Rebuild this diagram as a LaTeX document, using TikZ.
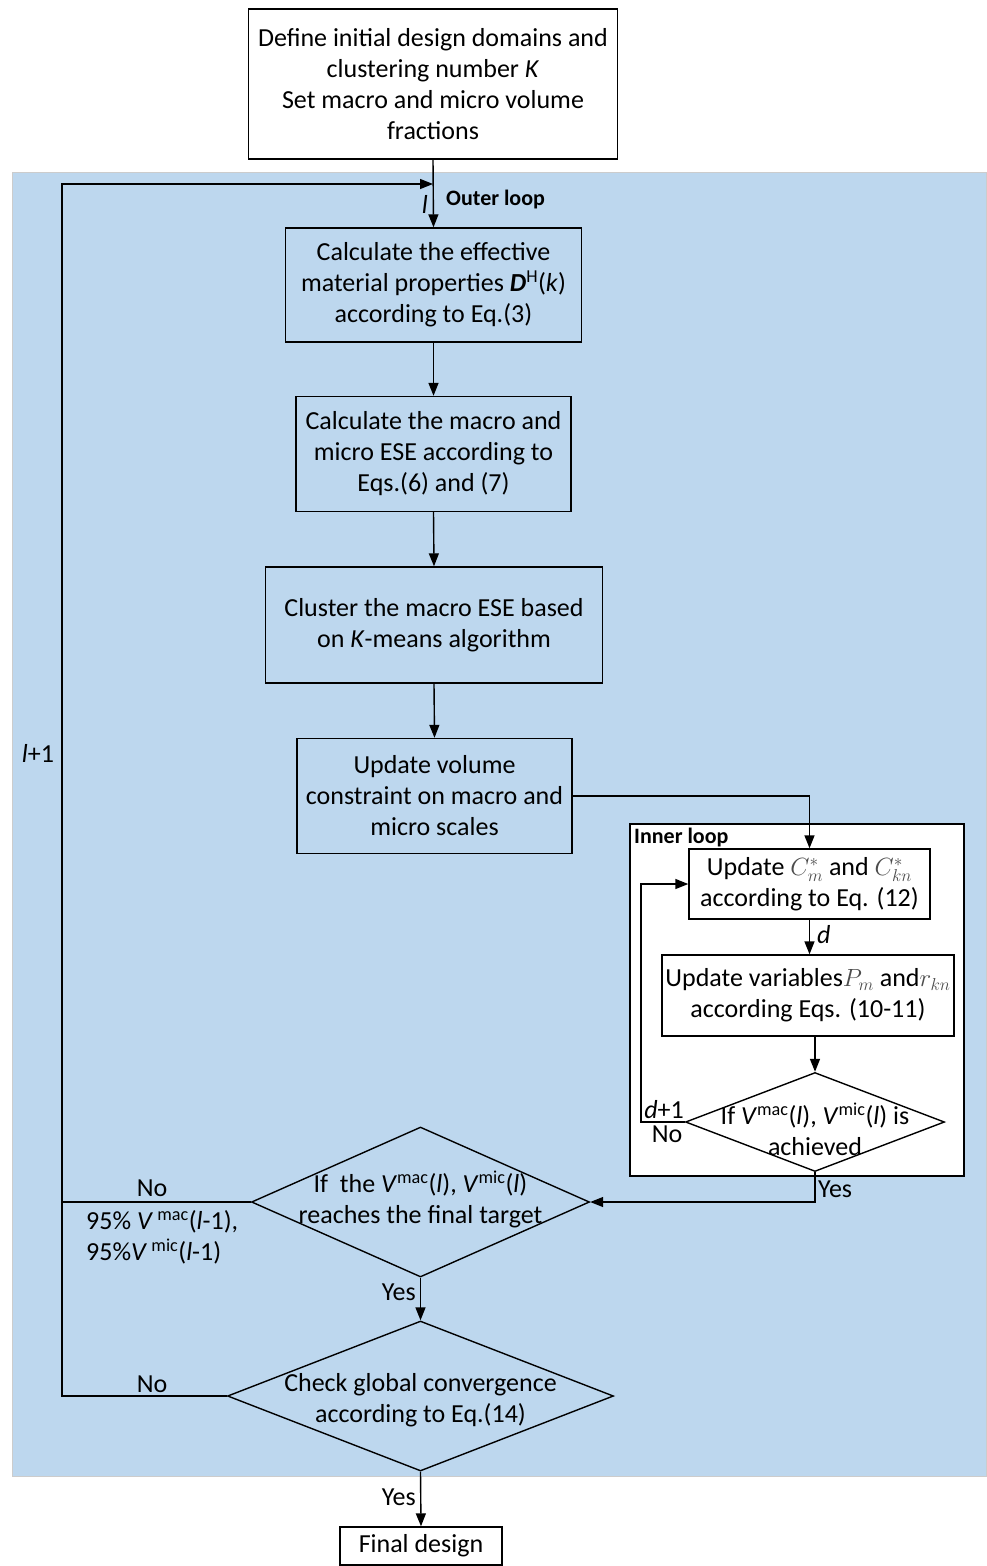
\documentclass[tikz,border=0pt]{standalone}
\usepackage{fontspec}
\setmainfont{Carlito}
\usepackage{tikz}
\usetikzlibrary{shapes.geometric}
\usetikzlibrary{arrows.meta}

\definecolor{loopblue}{RGB}{189,215,238}

\tikzset{
	box/.style={draw, line width=1.4pt, align=center, inner sep=0pt},
	decision/.style={draw, diamond, line width=1.4pt, inner sep=0pt},
	arr/.style={line width=1.4pt, -{Triangle[length=13pt,width=10pt]}},
	lnk/.style={line width=1.4pt},
	txt/.style={inner sep=0pt},
	looplbl/.style={inner sep=0pt, anchor=west, font=\bfseries\fontsize{22}{26}\selectfont}
}

\begin{document}
\begin{tikzpicture}[x=1pt,y=1pt,yscale=-1,xscale=1,font=\fontsize{26}{31}\selectfont]
	\useasboundingbox (0,0) rectangle (986,1566);

	%Shape: Rectangle [outer loop region]
	\fill [loopblue, draw=black!20] (12,172) rectangle (986,1476);
	%Shape: Rectangle [inner loop region]
	\draw [fill=white, line width=1.4pt] (630,824) rectangle (964,1176);

	%Shape: Rectangle
	\node [box, minimum width=369pt, minimum height=150pt] (init) at (433,84) {Define initial design domains and\\clustering number \textit{K}\\Set macro and micro volume\\fractions};
	%Shape: Rectangle
	\node [box, minimum width=296pt, minimum height=114pt] (effprop) at (433.5,285) {Calculate the effective\\material properties \textbf{\textit{D}}\textsuperscript{H}(\textit{k})\\according to Eq.(3)};
	%Shape: Rectangle
	\node [box, minimum width=275pt, minimum height=115pt] (ese) at (433.5,454) {Calculate the macro and\\micro ESE according to\\Eqs.(6) and (7)};
	%Shape: Rectangle
	\node [box, minimum width=337pt, minimum height=116pt] (cluster) at (434,625) {Cluster the macro ESE based\\on \textit{K}-means algorithm};
	%Shape: Rectangle
	\node [box, minimum width=275pt, minimum height=115pt] (volume) at (434.5,796) {Update volume\\constraint on macro and\\micro scales};
	%Shape: Rectangle
	\node [box, minimum width=241pt, minimum height=70pt] (updC) at (809.5,884) {Update {\color{black!70}$C_m^*$} and {\color{black!70}$C_{kn}^*$}\\according to Eq. (12)};
	%Shape: Rectangle
	\node [box, minimum width=292pt, minimum height=81pt] (updP) at (808,995.5) {Update variables{\color{black!70}$P_m$} and{\color{black!70}$r_{kn}$}\\according Eqs. (10-11)};
	%Shape: Diamond
	\node [decision, minimum width=259pt, minimum height=99pt] (innerdec) at (815,1122) {};
	%Shape: Diamond
	\node [decision, minimum width=338pt, minimum height=150pt] (target) at (420.5,1202) {};
	%Shape: Diamond
	\node [decision, minimum width=386pt, minimum height=150pt] (conv) at (420.5,1396) {};
	%Shape: Rectangle
	\node [box, minimum width=162pt, minimum height=38pt] (final) at (421,1546) {Final design};

	\coordinate (lentry) at (433,184);
	\coordinate (lcorner) at (62,1396);
	\coordinate (dback) at (641,1122);

	%Straight Lines
	\draw [arr] (init.south) -- (effprop.north);
	\draw [arr] (effprop.south) -- (ese.north);
	\draw [arr] (ese.south) -- (cluster.north);
	\draw [arr] (cluster.south) -- (volume.north);
	\draw [arr] (volume.east) -| (updC.north);
	\draw [arr] (updC.south) -- (updC.south |- updP.north);
	\draw [arr] (innerdec.north |- updP.south) -- (innerdec.north);
	\draw [arr] (innerdec.west) -- (dback) |- (updC.west);
	\draw [arr] (innerdec.south) |- (target.east);
	\draw [arr] (target.south) -- (conv.north);
	\draw [arr] (conv.south) -- (final.north);
	\draw [arr] (conv.west) -- (lcorner) |- (lentry);
	\draw [lnk] (target.west) -- (target.west -| lcorner);

	% Text Node
	\node [txt, align=center] (targettxt) at (420.5,1199) {If\ \ the \textit{V}\textsuperscript{mac}(\textit{l}), \textit{V}\textsuperscript{mic}(\textit{l})\\reaches the final target};
	% Text Node
	\node [txt, align=center] (convtxt) at (420.5,1400) {Check global convergence\\according to Eq.(14)};
	% Text Node
	\node [txt, align=center] (innerdectxt) at (815,1129) {If \textit{V}\textsuperscript{mac}(\textit{l}), \textit{V}\textsuperscript{mic}(\textit{l}) is\\achieved};
	% Text Node
	\node [txt, anchor=east] (lvar) at (428,204) {\textit{l}};
	% Text Node
	\node [looplbl] (outerlbl) at (446,200) {Outer loop};
	% Text Node
	\node [looplbl] (innerlbl) at (634,838) {Inner loop};
	% Text Node
	\node [txt] (lnext) at (38,753) {\textit{l}+1};
	% Text Node
	\node [txt] (no1) at (152,1188) {No};
	% Text Node
	\node [txt, anchor=west, align=left] (shrink) at (86,1237) {95\% \textit{V}\,\textsuperscript{mac}(\textit{l}-1),\\95\%\textit{V}\,\textsuperscript{mic}(\textit{l}-1)};
	% Text Node
	\node [txt] (no2) at (152,1384) {No};
	% Text Node
	\node [txt, anchor=east] (yes1) at (416,1292) {Yes};
	% Text Node
	\node [txt, anchor=east] (yes2) at (416,1497) {Yes};
	% Text Node
	\node [txt, anchor=west] (dvar) at (817,935) {\textit{d}};
	% Text Node
	\node [txt] (dnext) at (664,1110) {\textit{d}+1};
	% Text Node
	\node [txt] (no3) at (667,1134) {No};
	% Text Node
	\node [txt, anchor=west] (yes3) at (818,1189) {Yes};

\end{tikzpicture}
\end{document}
